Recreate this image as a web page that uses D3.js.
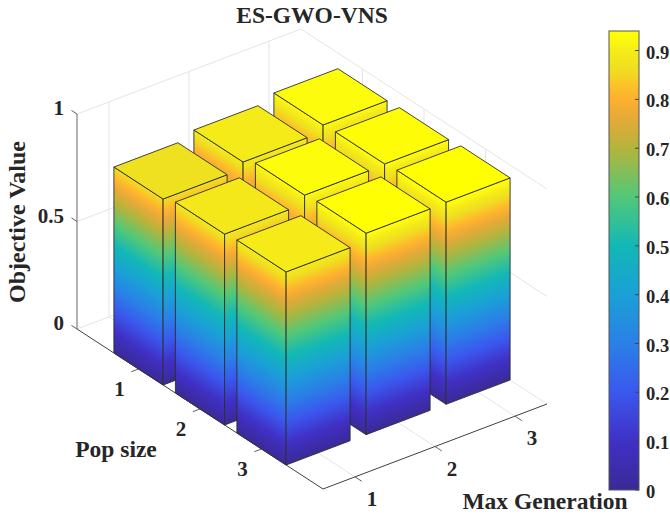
<!DOCTYPE html>
<html lang="en">

<head>
    <meta charset="UTF-8" />
    <title>ES-GWO-VNS</title>
    <script type="text/javascript" src="https://cdn.jsdelivr.net/npm/d3@7"></script>
    <style type="text/css">
        html, body { margin: 0; padding: 0; background: #fff; overflow: hidden; }
        text { font-family: "Liberation Serif", serif; font-weight: bold; fill: #262626; }
    </style>
</head>

<body>
    <svg id="chart" width="670" height="516"></svg>
    <script type="text/javascript">
        // values
        const popSizes = [1, 2, 3];
        const maxGens = [1, 2, 3];
        const pop1Values = [0.865, 0.896, 0.927];
        const pop2Values = [0.888, 0.928, 0.932];
        const pop3Values = [0.898, 0.937, 0.94];
        const zTicks = [0, 0.5, 1];
        const barTicks = [0, 0.1, 0.2, 0.3, 0.4, 0.5, 0.6, 0.7, 0.8, 0.9];

        // colormap as seen on the colorbar
        const cmapValues = [0, 0.1, 0.2, 0.3, 0.4, 0.5, 0.6, 0.7, 0.76, 0.8, 0.83, 0.865, 0.9, 0.925, 0.94];
        const cmapColors = ["#3a2a96", "#4030c6", "#3a58ee", "#2a80e6", "#1aa0d6", "#12b8b6", "#52c878",
            "#b4b43c", "#e4aa38", "#fdb030", "#fbc428", "#efe020", "#f6ec18", "#fdfb0e", "#ffff00"];

        const barMax = 0.94;
        const barWidth = 0.8;

        const color = d3.scaleLinear().domain(cmapValues).range(cmapColors);

        // orthographic view, each data axis adds its own screen offset
        const popX = d3.scaleLinear().domain([0, 4]).range([0, 246]);
        const popY = d3.scaleLinear().domain([0, 4]).range([0, 160]);
        const genX = d3.scaleLinear().domain([0.6, 3.4]).range([0, 224]);
        const genY = d3.scaleLinear().domain([0.6, 3.4]).range([0, -85]);
        const zY = d3.scaleLinear().domain([0, 1]).range([0, -215]);
        const origin = [77, 329];

        function project(pop, gen, z) {
            return [origin[0] + popX(pop) + genX(gen), origin[1] + popY(pop) + genY(gen) + zY(z)];
        }

        const popMin = 0, popMax = 4, genMin = 0.6, genMax = 3.4;

        const svg = d3.select("#chart");
        const defs = svg.append("defs");

        function segment(g, a, b, stroke, w) {
            g.append("line")
                .attr("x1", a[0]).attr("y1", a[1])
                .attr("x2", b[0]).attr("y2", b[1])
                .attr("stroke", stroke).attr("stroke-width", w);
        }

        // walls and floor grid
        const grid = svg.append("g");
        const gridColor = "#e4e4e4";
        zTicks.forEach(z => {
            segment(grid, project(popMin, genMin, z), project(popMin, genMax, z), gridColor, 1);
            segment(grid, project(popMin, genMax, z), project(popMax, genMax, z), gridColor, 1);
        });
        maxGens.forEach(g => {
            segment(grid, project(popMin, g, 0), project(popMin, g, 1), gridColor, 1);
            segment(grid, project(popMin, g, 0), project(popMax, g, 0), gridColor, 1);
        });
        popSizes.forEach(p => {
            segment(grid, project(p, genMax, 0), project(p, genMax, 1), gridColor, 1);
            segment(grid, project(p, genMin, 0), project(p, genMax, 0), gridColor, 1);
        });

        // axes
        const axes = svg.append("g");
        segment(axes, project(popMin, genMin, 0), project(popMin, genMin, 1), "#808080", 1.2);
        segment(axes, project(popMin, genMin, 0), project(popMax, genMin, 0), "#404040", 1);
        segment(axes, project(popMax, genMin, 0), project(popMax, genMax, 0), "#404040", 1);
        zTicks.forEach(z => {
            segment(axes, project(popMin, genMin, z), project(popMin - 0.09, genMin, z), "#606060", 1);
        });
        popSizes.forEach(p => {
            segment(axes, project(p, genMin, 0), project(p, genMin - 0.09, 0), "#606060", 1);
        });
        maxGens.forEach(g => {
            segment(axes, project(popMax, g, 0), project(popMax + 0.11, g, 0), "#606060", 1);
        });

        // gradient running with z across a face, isolines stay parallel to the base edge
        let gradId = 0;
        function faceGradient(p0, p1, h) {
            const a = project(p0[0], p0[1], 0), b = project(p1[0], p1[1], 0), top = project(p0[0], p0[1], h);
            const dx = b[0] - a[0], dy = b[1] - a[1], len = Math.hypot(dx, dy);
            const nx = -dy / len, ny = dx / len;
            const dot = (top[0] - a[0]) * nx + (top[1] - a[1]) * ny;
            const id = "face" + (gradId++);
            const grad = defs.append("linearGradient")
                .attr("id", id)
                .attr("gradientUnits", "userSpaceOnUse")
                .attr("x1", a[0]).attr("y1", a[1])
                .attr("x2", a[0] + nx * dot).attr("y2", a[1] + ny * dot);
            cmapValues.filter(v => v < h).concat([h]).forEach(v => {
                grad.append("stop").attr("offset", v / h).attr("stop-color", color(v));
            });
            return "url(#" + id + ")";
        }

        function poly(g, pts, fill) {
            g.append("polygon")
                .attr("points", pts.map(p => p.join(",")).join(" "))
                .attr("fill", fill)
                .attr("stroke", "#2e2e2e")
                .attr("stroke-width", 0.9)
                .attr("stroke-linejoin", "round");
        }

        // back to front so nearer bars cover the others
        const rows = [pop1Values, pop2Values, pop3Values];
        const bars = svg.append("g");
        popSizes.forEach((p, i) => {
            for (let j = maxGens.length - 1; j >= 0; j--) {
                const g = maxGens[j], h = rows[i][j];
                const d = barWidth / 2;
                const L = [p - d, g - d], F = [p + d, g - d], R = [p + d, g + d], B = [p - d, g + d];
                poly(bars, [project(L[0], L[1], 0), project(F[0], F[1], 0), project(F[0], F[1], h), project(L[0], L[1], h)],
                    faceGradient(L, F, h));
                poly(bars, [project(F[0], F[1], 0), project(R[0], R[1], 0), project(R[0], R[1], h), project(F[0], F[1], h)],
                    faceGradient(F, R, h));
                poly(bars, [L, F, R, B].map(c => project(c[0], c[1], h)), color(h));
            }
        });

        // axis text
        const labels = svg.append("g");
        function label(x, y, txt, size, anchor) {
            return labels.append("text").attr("x", x).attr("y", y)
                .attr("text-anchor", anchor || "middle").attr("dominant-baseline", "central")
                .attr("font-size", size).text(txt);
        }
        label(312, 15, "ES-GWO-VNS", 23.5);
        zTicks.forEach(z => {
            label(64, project(popMin, genMin, z)[1] - 6, String(z), 21, "end");
        });
        popSizes.forEach(p => {
            const t = project(p, genMin, 0);
            label(t[0] - 19, t[1] + 20, String(p), 21);
        });
        maxGens.forEach(g => {
            const t = project(popMax, g, 0);
            label(t[0] + 17, t[1] + 22, String(g), 21);
        });
        label(116, 449, "Pop size", 23.5);
        label(545, 501, "Max Generation", 23.5);
        label(0, 0, "Objective Value", 24).attr("transform", "translate(17,222) rotate(-90)");

        // colorbar
        const cbX = 609, cbW = 30;
        const cbY = d3.scaleLinear().domain([0, barMax]).range([490, 31]);
        const cbGrad = defs.append("linearGradient").attr("id", "cbar")
            .attr("x1", 0).attr("y1", 1).attr("x2", 0).attr("y2", 0);
        cmapValues.forEach(v => {
            cbGrad.append("stop").attr("offset", v / barMax).attr("stop-color", color(v));
        });
        svg.append("rect")
            .attr("x", cbX).attr("y", cbY(barMax))
            .attr("width", cbW).attr("height", cbY(0) - cbY(barMax))
            .attr("fill", "url(#cbar)").attr("stroke", "#555").attr("stroke-width", 1);
        barTicks.forEach(v => {
            segment(svg, [cbX + cbW - 4, cbY(v)], [cbX + cbW, cbY(v)], "#444", 1);
            label(646, cbY(v) + 2, String(v), 18.5, "start");
        });
    </script>
</body>

</html>
